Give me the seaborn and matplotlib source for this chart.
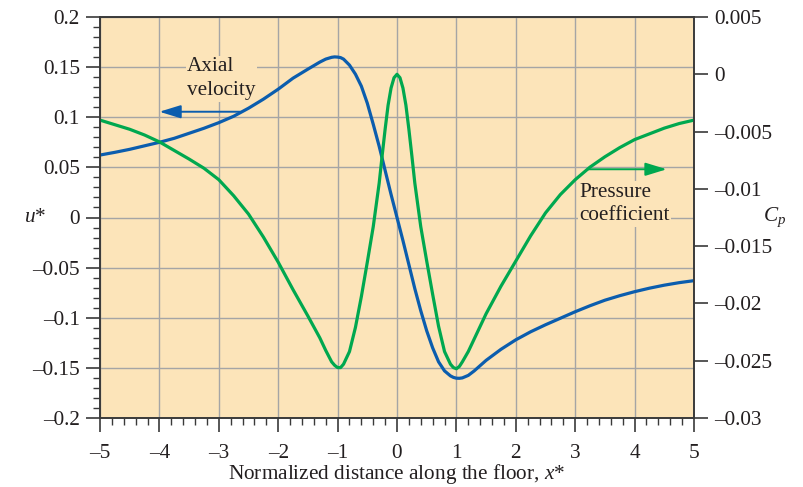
import numpy as np
import pandas as pd
import matplotlib
matplotlib.use("Agg")
import matplotlib.pyplot as plt
from matplotlib.ticker import MultipleLocator, FixedLocator, FuncFormatter
import seaborn as sns

# ---------------- data ----------------
x_star = [-5, -4.75, -4.5, -4.25, -4, -3.75, -3.5, -3.25, -3, -2.75, -2.5, -2.25, -2, -1.75, -1.5,
          -1.3, -1.2, -1.1, -1.05, -1.0, -0.95, -0.9, -0.8, -0.7, -0.6, -0.5, -0.4, -0.3,
          -0.25, -0.2, -0.15, -0.1, -0.05, 0,
          0.05, 0.1, 0.15, 0.2, 0.25, 0.3, 0.4, 0.5, 0.6, 0.7, 0.8, 0.9, 0.95, 1.0, 1.05,
          1.1, 1.2, 1.3,
          1.5, 1.75, 2, 2.25, 2.5, 2.75, 3, 3.25, 3.5, 3.75, 4, 4.25, 4.5, 4.75, 5]

axial_velocity = [0.0623, 0.065, 0.068, 0.0715, 0.075, 0.079, 0.084, 0.089, 0.0946, 0.101, 0.109,
                  0.118, 0.128, 0.139, 0.148,
                  0.155, 0.158, 0.1598, 0.1602, 0.160, 0.1595, 0.158, 0.152, 0.143, 0.131,
                  0.114, 0.093, 0.071, 0.059, 0.047, 0.035, 0.023, 0.0115, 0.000,
                  -0.0115, -0.023, -0.035, -0.047, -0.059, -0.071, -0.093, -0.113, -0.130,
                  -0.144, -0.153, -0.158, -0.1595, -0.1603, -0.1604,
                  -0.160, -0.1575, -0.153,
                  -0.1425, -0.1315, -0.122, -0.114, -0.107, -0.1005, -0.094, -0.088, -0.0825,
                  -0.078, -0.074, -0.0705, -0.0675, -0.065, -0.063]

pressure_coef = [-0.0040, -0.0044, -0.0048, -0.0053, -0.0059, -0.00665, -0.0074, -0.0082, -0.0092,
                 -0.0106, -0.0122, -0.0142, -0.0164, -0.0188, -0.0211,
                 -0.0230, -0.0241, -0.0251, -0.0254, -0.0256, -0.0256, -0.0253, -0.0242,
                 -0.0221, -0.0194, -0.0164, -0.0133, -0.0095,
                 -0.0071, -0.0048, -0.0027, -0.0012, -0.0003, 0.0000,
                 -0.0003, -0.0012, -0.0027, -0.0048, -0.0071, -0.0095, -0.0133, -0.0163,
                 -0.0192, -0.0220, -0.0242, -0.0253, -0.0256, -0.0257, -0.0255,
                 -0.0251, -0.0242, -0.0231,
                 -0.0209, -0.0185, -0.0163, -0.0141, -0.0121, -0.0105, -0.0092, -0.0081, -0.0072,
                 -0.0064, -0.0057, -0.0052, -0.0047, -0.0043, -0.0040]

x_ticks = [-5, -4, -3, -2, -1, 0, 1, 2, 3, 4, 5]
u_ticks = [-0.2, -0.15, -0.1, -0.05, 0, 0.05, 0.1, 0.15, 0.2]
cp_ticks = [-0.03, -0.025, -0.02, -0.015, -0.01, -0.005, 0, 0.005]

df = pd.DataFrame({"x": x_star, "u": axial_velocity, "cp": pressure_coef})

# ---------------- style ----------------
sns.set_style("ticks")
plt.rcParams["font.family"] = ["Liberation Serif", "DejaVu Serif"]
plt.rcParams["mathtext.fontset"] = "custom"
plt.rcParams["mathtext.rm"] = "Liberation Serif"
plt.rcParams["mathtext.it"] = "Liberation Serif:italic"

BG = "#FCE4B9"
BLUE = "#0B5DAE"
GREEN = "#00A84F"
SPINE = "#3a3a3a"
TXT = "#231f20"
FS = 15.3

def fmt(v, _=None):
    s = f"{v:g}"
    return s.replace("-", "\u2013")

fig = plt.figure(figsize=(8.04, 4.87), dpi=100)
ax = fig.add_axes([100 / 804, 69 / 487, 594 / 804, 401 / 487])
ax.set_facecolor(BG)
ax.set_axisbelow(True)

sns.lineplot(data=df, x="x", y="u", ax=ax, color=BLUE, lw=2.3, zorder=2,
             solid_joinstyle="round", solid_capstyle="round")
ax.set_xlim(-5, 5)
ax.set_ylim(-0.2, 0.2)
ax.xaxis.set_major_locator(FixedLocator(x_ticks))
ax.xaxis.set_minor_locator(MultipleLocator(0.2))
ax.yaxis.set_major_locator(FixedLocator(u_ticks))
ax.yaxis.set_minor_locator(MultipleLocator(0.01))
ax.xaxis.set_major_formatter(FuncFormatter(fmt))
ax.yaxis.set_major_formatter(FuncFormatter(fmt))
ax.grid(True, which="major", color="#A5A5A5", lw=1.0)
ax.tick_params(axis="both", which="major", direction="out", length=10.4, width=1.2,
               color=SPINE, labelsize=FS, labelcolor=TXT)
ax.tick_params(axis="x", which="major", pad=8)
ax.tick_params(axis="y", which="major", pad=4)
ax.tick_params(axis="both", which="minor", direction="out", length=5.2, width=1.0, color=SPINE)
ax.tick_params(axis="x", top=False, which="both")
for s in ax.spines.values():
    s.set_color(SPINE)
    s.set_linewidth(1.2)

ax.set_xlabel("Normalized distance along the floor, $x$*", fontsize=FS, color=TXT,
              va="baseline")
ax.xaxis.set_label_coords(0.5, -0.153)
ax.set_ylabel("$u$*", fontsize=FS, rotation=0, ha="center", va="center", color=TXT)
ax.yaxis.set_label_coords(-0.109, 0.5)

# annotations
ax.text(-3.535, 0.1385, "Axial\nvelocity", fontsize=FS, ha="left", va="center",
        linespacing=1.35, zorder=1.5, color=TXT,
        bbox=dict(facecolor=BG, edgecolor="none", pad=1))
ax.annotate("", xy=(-4.0, 0.1055), xytext=(-2.64, 0.1055),
            arrowprops=dict(arrowstyle="-|>,head_length=0.65,head_width=0.2",
                            mutation_scale=20, color=BLUE, lw=1.4, shrinkA=0, shrinkB=0),
            zorder=2)

ax.text(3.064, 0.0135, "Pressure\ncoefficient", fontsize=FS, ha="left", va="center",
        linespacing=1.35, zorder=1.5, color=TXT,
        bbox=dict(facecolor=BG, edgecolor="none", pad=1))

ax2 = ax.twinx()
sns.lineplot(data=df, x="x", y="cp", ax=ax2, color=GREEN, lw=2.3, zorder=2,
             solid_joinstyle="round", solid_capstyle="round")
ax2.set_ylim(-0.03, 0.005)
ax2.set_xlim(-5, 5)
ax2.yaxis.set_major_locator(FixedLocator(cp_ticks))
ax2.yaxis.set_major_formatter(FuncFormatter(fmt))
ax2.tick_params(axis="y", which="major", direction="out", length=10.4, width=1.2,
                color=SPINE, labelsize=FS, labelcolor=TXT, pad=4)
ax2.tick_params(axis="y", which="minor", right=False)
ax2.tick_params(axis="x", which="both", top=False, bottom=False, labelbottom=False)
for s in ax2.spines.values():
    s.set_color(SPINE)
    s.set_linewidth(1.2)
ax2.set_xlabel("")
ax2.set_ylabel("$C_p$", fontsize=FS, rotation=0, ha="center", va="center", color=TXT)
ax2.yaxis.set_label_coords(1.135, 0.5)

ax2.annotate("", xy=(4.54, -0.00829), xytext=(3.215, -0.00829),
             arrowprops=dict(arrowstyle="-|>,head_length=0.65,head_width=0.2",
                             mutation_scale=20, color=GREEN, lw=1.4, shrinkA=0, shrinkB=0))

fig.savefig("out.png", dpi=100, facecolor="white")
